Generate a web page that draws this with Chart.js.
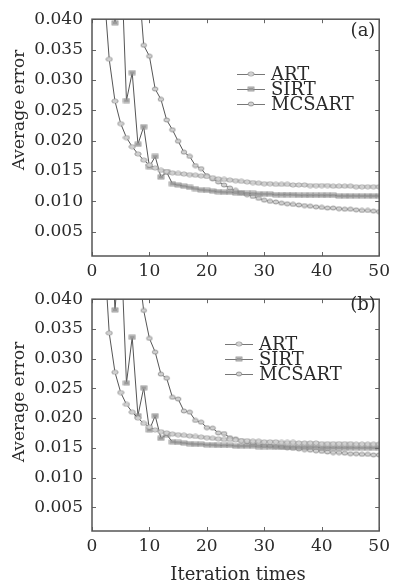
<!DOCTYPE html>
<html>
<head>
<meta charset="utf-8">
<script src="https://cdn.jsdelivr.net/npm/chart.js@4.4.1/dist/chart.umd.min.js"></script>
<style>
  body { margin: 0; background: #fff; }
  #wrap { position: relative; width: 395px; height: 583px; }
  canvas { position: absolute; left: 0; }
</style>
</head>
<body>
<div id="wrap">
  <canvas id="chartA" width="395" height="280" style="top:0"></canvas>
  <canvas id="chartB" width="395" height="303" style="top:280px"></canvas>
</div>
<script>
const iterations = [1, 2, 3, 4, 5, 6, 7, 8, 9, 10, 11, 12, 13, 14, 15, 16, 17, 18, 19, 20,
  21, 22, 23, 24, 25, 26, 27, 28, 29, 30, 31, 32, 33, 34, 35, 36, 37, 38, 39, 40,
  41, 42, 43, 44, 45, 46, 47, 48, 49, 50];
const seriesNames = ["ART", "SIRT", "MCSART"];
const xTicks = [0, 10, 20, 30, 40, 50];
const yTicks = [0.005, 0.010, 0.015, 0.020, 0.025, 0.030, 0.035, 0.040];

// panel (a)
const artA = [0.075, 0.046, 0.0334, 0.0265, 0.0228, 0.0205, 0.0190, 0.0178, 0.0168, 0.0160,
  0.0155, 0.0151, 0.0149, 0.0147, 0.0146, 0.0145, 0.0144, 0.0143, 0.0142, 0.0141,
  0.0139, 0.0137, 0.0136, 0.0135, 0.0134, 0.0133, 0.0132, 0.0131, 0.0130, 0.0129,
  0.0129, 0.0128, 0.0128, 0.0128, 0.0127, 0.0127, 0.0127, 0.0126, 0.0126, 0.0126,
  0.0126, 0.0125, 0.0125, 0.0125, 0.0125, 0.0124, 0.0124, 0.0124, 0.0124, 0.0124];
const sirtA = [0.12, 0.08, 0.06, 0.0394, 0.052, 0.0266, 0.0312, 0.0194, 0.0223, 0.0157,
  0.0174, 0.0140, 0.0148, 0.0129, 0.0127, 0.0125, 0.0123, 0.0121, 0.0119, 0.0118,
  0.0117, 0.0116, 0.0115, 0.0115, 0.0114, 0.0114, 0.0113, 0.0113, 0.0112, 0.0112,
  0.0112, 0.0111, 0.0111, 0.0111, 0.0111, 0.0110, 0.0110, 0.0110, 0.0110, 0.0110,
  0.0110, 0.0110, 0.0109, 0.0109, 0.0109, 0.0109, 0.0109, 0.0109, 0.0109, 0.0109];
const mcsartA = [0.20, 0.16, 0.13, 0.11, 0.085, 0.076, 0.060, 0.048, 0.0357, 0.0339,
  0.0285, 0.0268, 0.0234, 0.0218, 0.0199, 0.0181, 0.0174, 0.0159, 0.0154, 0.0142,
  0.0137, 0.0132, 0.0127, 0.0122, 0.0118, 0.0114, 0.0111, 0.0108, 0.0105, 0.0102,
  0.0100, 0.0099, 0.0097, 0.0096, 0.0095, 0.0094, 0.0093, 0.0092, 0.0091, 0.0090,
  0.0089, 0.0089, 0.0088, 0.0087, 0.0087, 0.0086, 0.0085, 0.0085, 0.0084, 0.0083];

// panel (b)
const artB = [0.09, 0.05, 0.0343, 0.0277, 0.0243, 0.0223, 0.0210, 0.0200, 0.0191, 0.0185,
  0.0180, 0.0177, 0.0175, 0.0173, 0.0172, 0.0171, 0.0170, 0.0169, 0.0168, 0.0167,
  0.0166, 0.0165, 0.0164, 0.0164, 0.0163, 0.0162, 0.0162, 0.0161, 0.0161, 0.0160,
  0.0160, 0.0160, 0.0159, 0.0159, 0.0159, 0.0158, 0.0158, 0.0158, 0.0158, 0.0157,
  0.0157, 0.0157, 0.0157, 0.0157, 0.0157, 0.0156, 0.0156, 0.0156, 0.0156, 0.0156];
const sirtB = [0.12, 0.08, 0.06, 0.0382, 0.050, 0.0259, 0.0336, 0.0204, 0.0251, 0.0180,
  0.0204, 0.0166, 0.0172, 0.0160, 0.0159, 0.0158, 0.0157, 0.0156, 0.0156, 0.0155,
  0.0155, 0.0154, 0.0154, 0.0154, 0.0153, 0.0153, 0.0153, 0.0153, 0.0152, 0.0152,
  0.0152, 0.0152, 0.0152, 0.0151, 0.0151, 0.0151, 0.0151, 0.0151, 0.0151, 0.0150,
  0.0150, 0.0150, 0.0150, 0.0150, 0.0150, 0.0150, 0.0150, 0.0150, 0.0150, 0.0150];
const mcsartB = [0.20, 0.16, 0.13, 0.11, 0.085, 0.075, 0.060, 0.046, 0.0381, 0.0334,
  0.0311, 0.0274, 0.0267, 0.0235, 0.0232, 0.0212, 0.0210, 0.0196, 0.0193, 0.0184,
  0.0183, 0.0175, 0.0174, 0.0167, 0.0165, 0.0162, 0.0160, 0.0158, 0.0156, 0.0154,
  0.0153, 0.0152, 0.0151, 0.0150, 0.0149, 0.0148, 0.0147, 0.0146, 0.0145, 0.0144,
  0.0143, 0.0142, 0.0142, 0.0141, 0.0140, 0.0140, 0.0139, 0.0139, 0.0138, 0.0138];

const FONT = "'DejaVu Serif', serif";
const TXT = "#2a2a2a";

// small marker bitmaps, like the gnuplot symbols in the figure
function makeMarker(kind) {
  const c = document.createElement("canvas");
  c.width = 8;
  c.height = 6;
  const g = c.getContext("2d");
  g.strokeStyle = "#8a8a8a";
  g.lineWidth = 0.8;
  if (kind === "ellipse") {
    g.fillStyle = "#ffffff";
    g.beginPath();
    g.ellipse(4, 3, 3.2, 2, 0, 0, Math.PI * 2);
    g.fill();
    g.stroke();
    g.beginPath();
    g.moveTo(1, 3);
    g.lineTo(7, 3);
    g.stroke();
  } else if (kind === "square") {
    g.fillStyle = "#9a9a9a";
    g.fillRect(1.5, 1.5, 5, 3);
    g.strokeRect(1, 1, 6, 4);
  } else {
    g.fillStyle = "#d0d0d0";
    g.beginPath();
    g.ellipse(4, 3, 2.8, 2, 0, 0, Math.PI * 2);
    g.fill();
    g.stroke();
  }
  return c;
}
const markers = [makeMarker("ellipse"), makeMarker("square"), makeMarker("dot")];

const decor = {
  id: "decor",
  afterDraw(chart, args, o) {
    const { ctx, chartArea: a, scales } = chart;
    ctx.save();
    ctx.strokeStyle = "#666";
    ctx.lineWidth = 1;
    // inward ticks on all four sides
    ctx.beginPath();
    yTicks.forEach(v => {
      const y = Math.round(scales.y.getPixelForValue(v)) + 0.5;
      ctx.moveTo(a.left, y); ctx.lineTo(a.left + 4, y);
      ctx.moveTo(a.right, y); ctx.lineTo(a.right - 4, y);
    });
    xTicks.forEach(v => {
      const x = Math.round(scales.x.getPixelForValue(v)) + 0.5;
      ctx.moveTo(x, a.bottom); ctx.lineTo(x, a.bottom - 4);
      ctx.moveTo(x, a.top); ctx.lineTo(x, a.top + 4);
    });
    ctx.stroke();
    ctx.strokeStyle = "#555";
    ctx.lineWidth = 1.5;
    ctx.strokeRect(a.left, a.top, a.right - a.left, a.bottom - a.top);

    // legend
    ctx.font = "18px " + FONT;
    ctx.textBaseline = "middle";
    ctx.fillStyle = TXT;
    chart.data.datasets.forEach((ds, i) => {
      const y = o.legendY + i * 15;
      ctx.strokeStyle = "#777";
      ctx.lineWidth = 1;
      ctx.beginPath();
      ctx.moveTo(o.legendX, y + 0.5);
      ctx.lineTo(o.legendX + 28, y + 0.5);
      ctx.stroke();
      ctx.drawImage(markers[i], o.legendX + 10, y - 3);
      ctx.fillText(ds.label, o.legendX + 34, y + 1);
    });

    // panel tag
    ctx.textAlign = "center";
    ctx.fillText(o.tag, 363, o.tagY);

    // axis titles
    ctx.save();
    ctx.translate(20, o.yTitleY);
    ctx.rotate(-Math.PI / 2);
    ctx.font = "17px " + FONT;
    ctx.fillText("Average error", 0, 0);
    ctx.restore();
    if (o.xTitle) {
      ctx.font = "18px " + FONT;
      ctx.fillText(o.xTitle, 238, o.xTitleY);
    }
    ctx.restore();
  }
};

function makeChart(id, values, top, xHeight, decorOpts) {
  const datasets = seriesNames.map((name, i) => ({
    label: name,
    data: iterations.map((it, k) => ({ x: it, y: values[i][k] })),
    borderColor: "#555",
    borderWidth: 1,
    pointStyle: markers[i],
    pointRadius: 3,
    tension: 0
  }));
  return new Chart(document.getElementById(id), {
    type: "line",
    data: { datasets },
    options: {
      responsive: false,
      animation: false,
      events: [],
      layout: { padding: { left: 0, right: 11, top: top, bottom: 0 } },
      plugins: {
        legend: { display: false },
        tooltip: { enabled: false },
        decor: decorOpts
      },
      scales: {
        x: {
          type: "linear",
          min: 0,
          max: 50,
          afterBuildTicks: s => { s.ticks = xTicks.map(v => ({ value: v })); },
          afterFit: s => { s.height = xHeight; },
          grid: { display: false, drawTicks: false },
          border: { display: false },
          ticks: { padding: 5, color: TXT, font: { family: FONT, size: 17 } }
        },
        y: {
          min: 0.001,
          max: 0.040,
          afterBuildTicks: s => { s.ticks = yTicks.map(v => ({ value: v })); },
          afterFit: s => { s.width = 92; },
          grid: { display: false, drawTicks: false },
          border: { display: false },
          ticks: {
            padding: 9,
            color: TXT,
            font: { family: FONT, size: 17 },
            callback: v => v.toFixed(3)
          }
        }
      }
    },
    plugins: [decor]
  });
}

makeChart("chartA", [artA, sirtA, mcsartA], 14, 24,
  { legendX: 237, legendY: 74, tag: "(a)", tagY: 31, yTitleY: 110 });
makeChart("chartB", [artB, sirtB, mcsartB], 7, 52,
  { legendX: 225, legendY: 64, tag: "(b)", tagY: 25, yTitleY: 122, xTitle: "Iteration times", xTitleY: 295 });
</script>
</body>
</html>
